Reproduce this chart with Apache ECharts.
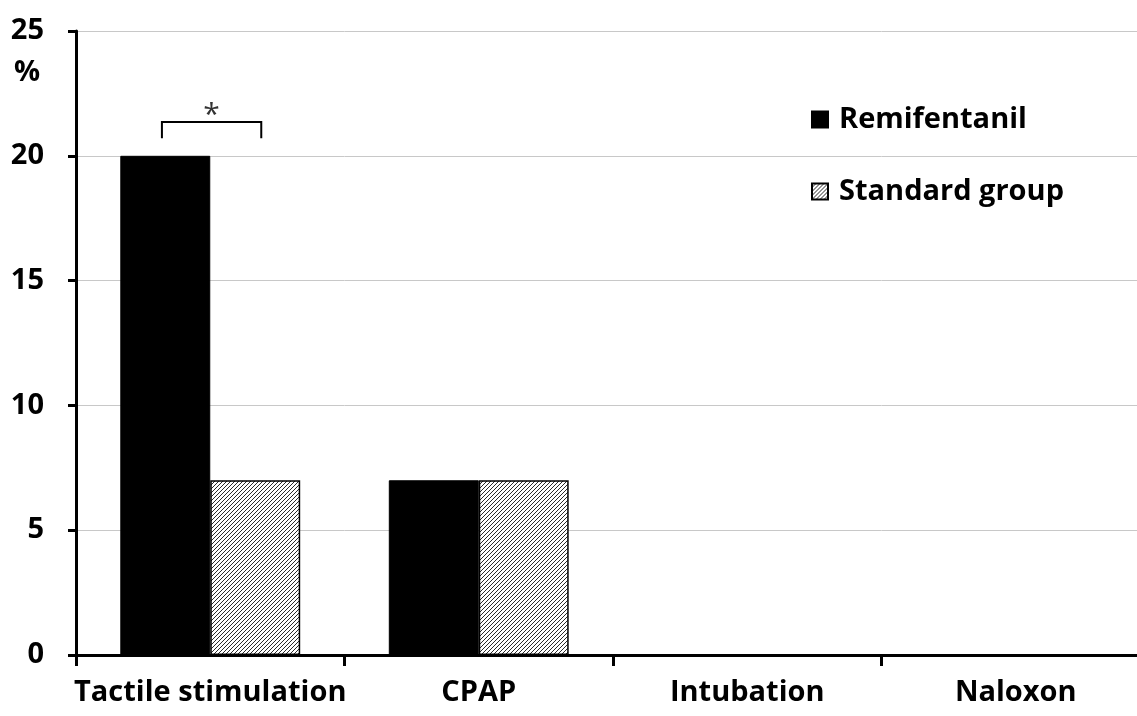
<!DOCTYPE html>
<html>
<head>
<meta charset="utf-8">
<script src="https://cdn.jsdelivr.net/npm/echarts@6/dist/echarts.min.js"></script>
<style>
  html, body { margin: 0; padding: 0; background: #fff; width: 1137px; height: 716px; overflow: hidden; }
  /* the plot area runs a little past the right edge of the page */
  #chart { width: 1150px; height: 716px; }
</style>
</head>
<body>
<div id="chart"></div>
<script>
// Interventions and the share of patients (%) receiving each one
const categories = ['Tactile stimulation', 'CPAP', 'Intubation', 'Naloxon'];
const remifentanil = [20, 7, 0, 0];
const standardGroup = [7, 7, 0, 0];
const yTicks = [0, 5, 10, 15, 20, 25];
// Significance bracket over Tactile stimulation
const significance = [{ category: 0, value: 21.35, label: '*' }];

const FONT = '"Open Sans", "Noto Sans", sans-serif';

// Diagonal hatch tile for the standard group
function hatchPattern() {
  const c = document.createElement('canvas');
  const s = 4;
  c.width = s; c.height = s;
  const ctx = c.getContext('2d');
  ctx.fillStyle = '#ffffff';
  ctx.fillRect(0, 0, s, s);
  ctx.strokeStyle = '#2a2a2a';
  ctx.lineWidth = 1;
  ctx.beginPath();
  ctx.moveTo(0, s); ctx.lineTo(s, 0);
  ctx.moveTo(-1, 1); ctx.lineTo(1, -1);
  ctx.moveTo(s - 1, s + 1); ctx.lineTo(s + 1, s - 1);
  ctx.stroke();
  return c;
}
const hatch = { image: hatchPattern(), repeat: 'repeat' };

const chart = echarts.init(document.getElementById('chart'), null, { renderer: 'canvas' });

chart.setOption({
  animation: false,
  backgroundColor: '#ffffff',
  grid: { left: 76, right: 0, top: 31, bottom: 61, containLabel: false },
  legend: {
    orient: 'vertical',
    left: 806,
    top: 100,
    itemWidth: 16,
    itemHeight: 16,
    itemGap: 43,
    icon: 'rect',
    textStyle: { fontFamily: FONT, fontWeight: 'bold', fontSize: 29, color: '#000', padding: [0, 0, 0, 6] },
    data: ['Remifentanil', 'Standard group']
  },
  xAxis: {
    type: 'category',
    data: categories,
    axisLine: { lineStyle: { color: '#000', width: 3 } },
    axisTick: { show: true, interval: 0, length: 11, lineStyle: { color: '#000', width: 3 } },
    axisLabel: { interval: 0, fontFamily: FONT, fontWeight: 'bold', fontSize: 29, color: '#000', margin: 23 },
    splitLine: { show: false }
  },
  yAxis: {
    type: 'value',
    min: yTicks[0],
    max: yTicks[yTicks.length - 1],
    interval: 5,
    axisLine: { show: true, lineStyle: { color: '#000', width: 3 } },
    axisTick: { show: true, inside: false, length: 8, lineStyle: { color: '#000', width: 3 } },
    axisLabel: { fontFamily: FONT, fontWeight: 'bold', fontSize: 29, color: '#000', margin: 32 },
    splitLine: { show: true, lineStyle: { color: '#c8c8c8', width: 1 } }
  },
  graphic: [{
    type: 'text',
    left: 14,
    top: 58,
    style: { text: '%', fontFamily: FONT, fontWeight: 'bold', fontSize: 29, fill: '#000' }
  }],
  series: [
    {
      name: 'Remifentanil',
      type: 'bar',
      data: remifentanil,
      barGap: '0%',
      barCategoryGap: '33%',
      itemStyle: { color: '#000', borderColor: '#000', borderWidth: 1 }
    },
    {
      name: 'Standard group',
      type: 'bar',
      data: standardGroup,
      itemStyle: { color: hatch, borderColor: '#000', borderWidth: 1.5 }
    },
    {
      type: 'custom',
      silent: true,
      data: significance.map(d => [d.category, d.value]),
      renderItem: function (params, api) {
        const top = api.coord([api.value(0), api.value(1)]);
        const band = api.size([1, 0])[0];
        const x1 = top[0] - band * 0.18;
        const x2 = top[0] + band * 0.19;
        const legLen = api.size([0, 0.65])[1];
        return {
          type: 'group',
          children: [
            {
              type: 'polyline',
              shape: { points: [[x1, top[1] + legLen], [x1, top[1]], [x2, top[1]], [x2, top[1] + legLen]] },
              style: { stroke: '#000', lineWidth: 2, fill: null }
            },
            {
              type: 'text',
              x: (x1 + x2) / 2,
              y: top[1] + 8,
              style: {
                text: significance[params.dataIndex].label,
                fontFamily: FONT, fontSize: 30, fill: '#333',
                align: 'center', verticalAlign: 'bottom'
              }
            }
          ]
        };
      }
    }
  ]
});
</script>
</body>
</html>
